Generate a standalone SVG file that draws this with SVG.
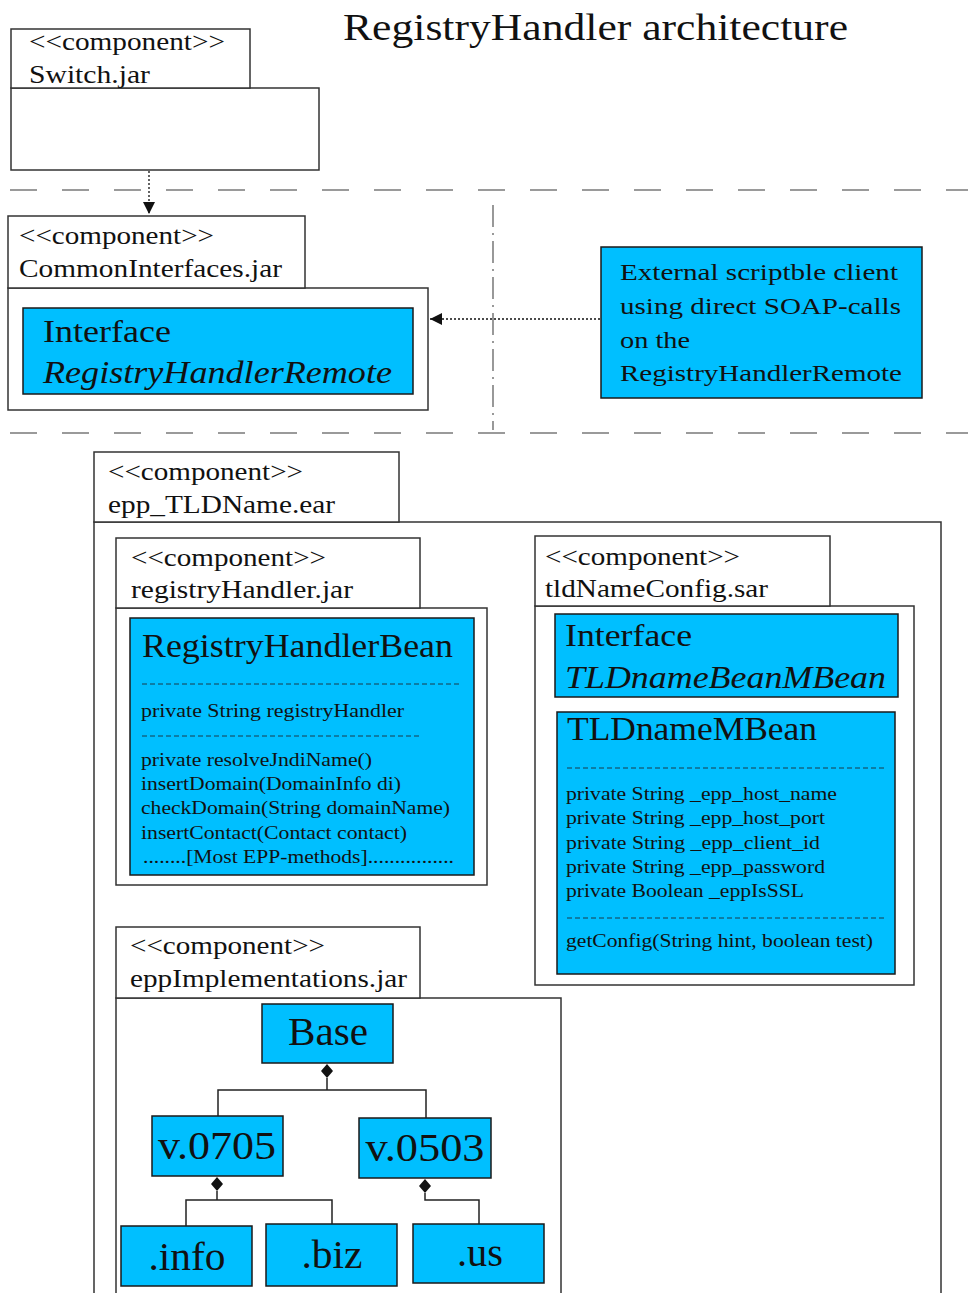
<svg xmlns="http://www.w3.org/2000/svg" width="968" height="1293" viewBox="0 0 968 1293">
  <style>
    .frame { fill: #ffffff; stroke: #333333; stroke-width: 1.5; }
    .cls { fill: #00bfff; stroke: #1a1a1a; stroke-width: 1.5; }
    .t { font-family: "Liberation Serif", "Times New Roman", serif; fill: #111111; }
    .tab { font-size: 26px; }
    .head { font-size: 31px; }
    .big { font-size: 34px; }
    .mem { font-size: 19px; }
    .leaf { font-size: 40px; text-anchor: middle; }
    .it { font-style: italic; }
    .sep { stroke: #9a9a9a; stroke-width: 2; stroke-dasharray: 27 25; fill: none; }
    .vsep { stroke: #555555; stroke-width: 1.2; stroke-dasharray: 22 6 2 6; fill: none; }
    .dep { stroke: #111111; stroke-width: 1.3; stroke-dasharray: 2 2; fill: none; }
    .tree { stroke: #222222; stroke-width: 1.5; fill: none; }
    .dash { stroke: #1a3a4a; stroke-width: 1; stroke-dasharray: 5 3; fill: none; }
  </style>
  <defs>
    <marker id="arrow" viewBox="0 0 10 10" refX="10" refY="5" markerWidth="12" markerHeight="12" markerUnits="userSpaceOnUse" orient="auto">
      <path d="M0,0 L10,5 L0,10 Z" fill="#111111"/>
    </marker>
    <path id="diamond" d="M0,-7 L6,0 L0,7 L-6,0 Z" fill="#111111"/>
  </defs>

  <rect width="968" height="1293" fill="#ffffff"/>

  <text class="t" x="343" y="40" font-size="38" textLength="505" lengthAdjust="spacingAndGlyphs">RegistryHandler architecture</text>

  <!-- Switch.jar -->
  <g id="switch-jar">
    <rect class="frame" x="11" y="88" width="308" height="82"/>
    <rect class="frame" x="11" y="29" width="239" height="59"/>
    <text class="t tab" x="29" y="50" textLength="196" lengthAdjust="spacingAndGlyphs">&lt;&lt;component&gt;&gt;</text>
    <text class="t tab" x="29" y="83" textLength="121" lengthAdjust="spacingAndGlyphs">Switch.jar</text>
  </g>

  <!-- CommonInterfaces.jar -->
  <g id="common-interfaces-jar">
    <rect class="frame" x="8" y="288" width="420" height="122"/>
    <rect class="frame" x="8" y="216" width="297" height="72"/>
    <text class="t tab" x="19" y="244" textLength="195" lengthAdjust="spacingAndGlyphs">&lt;&lt;component&gt;&gt;</text>
    <text class="t tab" x="19" y="277" textLength="263" lengthAdjust="spacingAndGlyphs">CommonInterfaces.jar</text>
  </g>
  <g id="registry-handler-remote">
    <rect class="cls" x="23" y="308" width="390" height="86"/>
    <text class="t head" x="43" y="342" textLength="128" lengthAdjust="spacingAndGlyphs">Interface</text>
    <text class="t head it" x="43" y="383" textLength="349" lengthAdjust="spacingAndGlyphs">RegistryHandlerRemote</text>
  </g>

  <!-- external client -->
  <g id="external-client">
    <rect class="cls" x="601" y="247" width="321" height="151"/>
    <text class="t" font-size="24" x="620" y="280" textLength="278" lengthAdjust="spacingAndGlyphs">External scriptble client</text>
    <text class="t" font-size="24" x="620" y="314" textLength="281" lengthAdjust="spacingAndGlyphs">using direct SOAP-calls</text>
    <text class="t" font-size="24" x="620" y="348" textLength="70" lengthAdjust="spacingAndGlyphs">on the</text>
    <text class="t" font-size="24" x="620" y="381" textLength="282" lengthAdjust="spacingAndGlyphs">RegistryHandlerRemote</text>
  </g>

  <!-- epp_TLDName.ear -->
  <g id="epp-tldname-ear">
    <rect class="frame" x="94" y="522" width="847" height="780"/>
    <rect class="frame" x="94" y="452" width="305" height="70"/>
    <text class="t tab" x="108" y="480" textLength="195" lengthAdjust="spacingAndGlyphs">&lt;&lt;component&gt;&gt;</text>
    <text class="t tab" x="108" y="513" textLength="227" lengthAdjust="spacingAndGlyphs">epp_TLDName.ear</text>
  </g>

  <!-- registryHandler.jar -->
  <g id="registry-handler-jar">
    <rect class="frame" x="116" y="608" width="371" height="277"/>
    <rect class="frame" x="116" y="538" width="304" height="70"/>
    <text class="t tab" x="131" y="566" textLength="195" lengthAdjust="spacingAndGlyphs">&lt;&lt;component&gt;&gt;</text>
    <text class="t tab" x="131" y="598" textLength="222" lengthAdjust="spacingAndGlyphs">registryHandler.jar</text>
  </g>
  <g id="registry-handler-bean">
    <rect class="cls" x="130" y="618" width="344" height="257"/>
    <text class="t big" x="142" y="657" textLength="311" lengthAdjust="spacingAndGlyphs">RegistryHandlerBean</text>
    <line class="dash" x1="142" y1="684" x2="460" y2="684"/>
    <text class="t mem" x="141" y="717" textLength="263" lengthAdjust="spacingAndGlyphs">private String registryHandler</text>
    <line class="dash" x1="142" y1="736" x2="422" y2="736"/>
    <text class="t mem" x="141" y="766" textLength="231" lengthAdjust="spacingAndGlyphs">private resolveJndiName()</text>
    <text class="t mem" x="141" y="790" textLength="260" lengthAdjust="spacingAndGlyphs">insertDomain(DomainInfo di)</text>
    <text class="t mem" x="141" y="814" textLength="309" lengthAdjust="spacingAndGlyphs">checkDomain(String domainName)</text>
    <text class="t mem" x="141" y="839" textLength="266" lengthAdjust="spacingAndGlyphs">insertContact(Contact contact)</text>
    <text class="t mem" x="143" y="863" textLength="311" lengthAdjust="spacingAndGlyphs">........[Most EPP-methods]................</text>
  </g>

  <!-- tldNameConfig.sar -->
  <g id="tldname-config-sar">
    <rect class="frame" x="535" y="606" width="379" height="379"/>
    <rect class="frame" x="535" y="536" width="295" height="70"/>
    <text class="t tab" x="545" y="565" textLength="195" lengthAdjust="spacingAndGlyphs">&lt;&lt;component&gt;&gt;</text>
    <text class="t tab" x="545" y="597" textLength="223" lengthAdjust="spacingAndGlyphs">tldNameConfig.sar</text>
  </g>
  <g id="tldname-bean-mbean">
    <rect class="cls" x="555" y="614" width="343" height="83"/>
    <text class="t head" x="565" y="646" textLength="127" lengthAdjust="spacingAndGlyphs">Interface</text>
    <text class="t head it" x="565" y="688" textLength="321" lengthAdjust="spacingAndGlyphs">TLDnameBeanMBean</text>
  </g>
  <g id="tldname-mbean">
    <rect class="cls" x="557" y="712" width="338" height="262"/>
    <text class="t big" x="567" y="740" textLength="250" lengthAdjust="spacingAndGlyphs">TLDnameMBean</text>
    <line class="dash" x1="567" y1="768" x2="884" y2="768"/>
    <text class="t mem" x="566" y="800" textLength="271" lengthAdjust="spacingAndGlyphs">private String _epp_host_name</text>
    <text class="t mem" x="566" y="824" textLength="259" lengthAdjust="spacingAndGlyphs">private String _epp_host_port</text>
    <text class="t mem" x="566" y="849" textLength="254" lengthAdjust="spacingAndGlyphs">private String _epp_client_id</text>
    <text class="t mem" x="566" y="873" textLength="259" lengthAdjust="spacingAndGlyphs">private String _epp_password</text>
    <text class="t mem" x="566" y="897" textLength="238" lengthAdjust="spacingAndGlyphs">private Boolean _eppIsSSL</text>
    <line class="dash" x1="567" y1="918" x2="884" y2="918"/>
    <text class="t mem" x="566" y="947" textLength="307" lengthAdjust="spacingAndGlyphs">getConfig(String hint, boolean test)</text>
  </g>

  <!-- eppImplementations.jar -->
  <g id="epp-implementations-jar">
    <rect class="frame" x="116" y="998" width="445" height="304"/>
    <rect class="frame" x="116" y="927" width="304" height="71"/>
    <text class="t tab" x="130" y="954" textLength="195" lengthAdjust="spacingAndGlyphs">&lt;&lt;component&gt;&gt;</text>
    <text class="t tab" x="130" y="987" textLength="277" lengthAdjust="spacingAndGlyphs">eppImplementations.jar</text>
  </g>
  <g id="base">
    <rect class="cls" x="262" y="1004" width="131" height="59"/>
    <text class="t leaf" x="328" y="1045" font-size="38" textLength="80" lengthAdjust="spacingAndGlyphs">Base</text>
  </g>
  <g id="v0705">
    <rect class="cls" x="152" y="1116" width="131" height="60"/>
    <text class="t leaf" x="217" y="1159" textLength="118" lengthAdjust="spacingAndGlyphs">v.0705</text>
  </g>
  <g id="v0503">
    <rect class="cls" x="359" y="1118" width="132" height="60"/>
    <text class="t leaf" x="425" y="1161" textLength="119" lengthAdjust="spacingAndGlyphs">v.0503</text>
  </g>
  <g id="info">
    <rect class="cls" x="121" y="1226" width="131" height="60"/>
    <text class="t leaf" x="187" y="1270" textLength="77" lengthAdjust="spacingAndGlyphs">.info</text>
  </g>
  <g id="biz">
    <rect class="cls" x="266" y="1224" width="131" height="62"/>
    <text class="t leaf" x="332" y="1268" textLength="61" lengthAdjust="spacingAndGlyphs">.biz</text>
  </g>
  <g id="us">
    <rect class="cls" x="413" y="1224" width="131" height="59"/>
    <text class="t leaf" x="480" y="1266" textLength="46" lengthAdjust="spacingAndGlyphs">.us</text>
  </g>

  <!-- layer separators and connectors, drawn over the container fills -->
  <g id="connectors">
    <line class="sep" x1="10" y1="190" x2="968" y2="190"/>
    <line class="sep" x1="10" y1="433" x2="968" y2="433"/>
    <line class="vsep" x1="493" y1="205" x2="493" y2="430"/>
    <line class="dep" x1="149" y1="171" x2="149" y2="214" marker-end="url(#arrow)"/>
    <line class="dep" x1="600" y1="319" x2="430" y2="319" marker-end="url(#arrow)"/>
    <!-- composition tree in eppImplementations.jar -->
    <use href="#diamond" x="327" y="1071"/>
    <polyline class="tree" points="327,1078 327,1090"/>
    <polyline class="tree" points="218,1116 218,1090 426,1090 426,1118"/>
    <use href="#diamond" x="217" y="1184"/>
    <polyline class="tree" points="217,1191 217,1200"/>
    <polyline class="tree" points="186,1226 186,1200 332,1200 332,1224"/>
    <use href="#diamond" x="425" y="1186"/>
    <polyline class="tree" points="425,1193 425,1200 479,1200 479,1224"/>
  </g>
</svg>
